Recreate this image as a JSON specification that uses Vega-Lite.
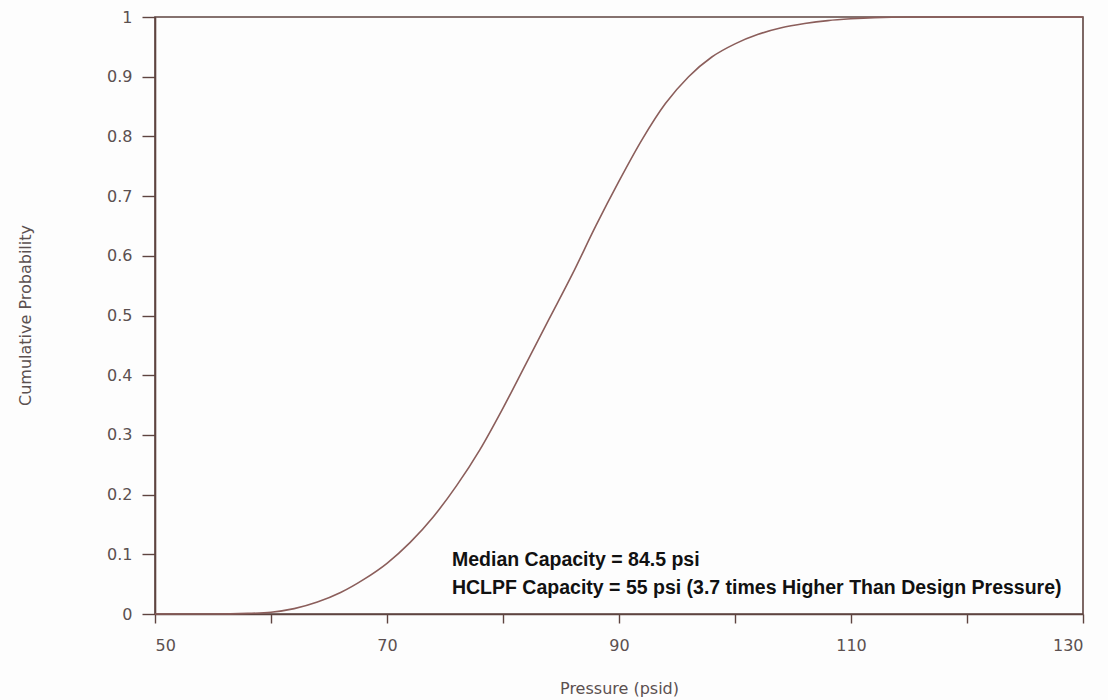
{
  "$schema": "https://vega.github.io/schema/vega-lite/v6.json",
  "autosize": "none",
  "width": 928,
  "height": 597,
  "padding": {"left": 155, "top": 17, "right": 25, "bottom": 86},
  "background": "#fdfdfd",
  "config": {
    "view": {"stroke": "#5e4440", "strokeWidth": 1.6},
    "axis": {
      "grid": false,
      "domainColor": "#5e4440",
      "domainWidth": 1.6,
      "tickColor": "#5e4440",
      "tickWidth": 1.4,
      "labelFont": "DejaVu Sans",
      "labelColor": "#5b5050",
      "labelFontSize": 16,
      "titleFont": "DejaVu Sans",
      "titleColor": "#5b5050",
      "titleFontSize": 16,
      "titleFontWeight": "normal"
    }
  },
  "datasets": {
    "curve": [
      {"pressure": 50, "prob": 0},
      {"pressure": 55, "prob": 0},
      {"pressure": 58, "prob": 0.001},
      {"pressure": 60, "prob": 0.003},
      {"pressure": 62, "prob": 0.009},
      {"pressure": 64, "prob": 0.02},
      {"pressure": 66, "prob": 0.036},
      {"pressure": 68, "prob": 0.058},
      {"pressure": 70, "prob": 0.085},
      {"pressure": 72, "prob": 0.12},
      {"pressure": 74, "prob": 0.163},
      {"pressure": 76, "prob": 0.215},
      {"pressure": 78, "prob": 0.275},
      {"pressure": 80, "prob": 0.345},
      {"pressure": 82, "prob": 0.42},
      {"pressure": 84, "prob": 0.495},
      {"pressure": 86, "prob": 0.57},
      {"pressure": 88, "prob": 0.65},
      {"pressure": 90, "prob": 0.725},
      {"pressure": 92, "prob": 0.795},
      {"pressure": 94, "prob": 0.855},
      {"pressure": 96, "prob": 0.9},
      {"pressure": 98, "prob": 0.933},
      {"pressure": 100, "prob": 0.955},
      {"pressure": 102, "prob": 0.971},
      {"pressure": 104, "prob": 0.982},
      {"pressure": 106, "prob": 0.989},
      {"pressure": 108, "prob": 0.994},
      {"pressure": 110, "prob": 0.997},
      {"pressure": 112, "prob": 0.999},
      {"pressure": 115, "prob": 1},
      {"pressure": 130, "prob": 1}
    ],
    "notes": [
      {"pressure": 75.6, "prob": 0.09, "text": "Median Capacity = 84.5 psi"},
      {"pressure": 75.6, "prob": 0.0436, "text": "HCLPF Capacity = 55 psi (3.7 times Higher Than Design Pressure)"}
    ]
  },
  "layer": [
    {
      "data": {"name": "curve"},
      "mark": {"type": "line", "color": "#8b5e5b", "strokeWidth": 1.6, "interpolate": "monotone"},
      "encoding": {
        "x": {
          "field": "pressure", "type": "quantitative",
          "scale": {"domain": [50, 130], "nice": false, "zero": false},
          "axis": {
            "title": "Pressure (psid)",
            "values": [50, 60, 70, 80, 90, 100, 110, 120, 130],
            "labelExpr": "datum.value % 20 == 10 ? datum.label : ''",
            "tickSize": 9,
            "labelPadding": 14,
            "titleY": 74,
            "titleBaseline": "middle"
          }
        },
        "y": {
          "field": "prob", "type": "quantitative",
          "scale": {"domain": [0, 1], "nice": false},
          "axis": {
            "title": "Cumulative Probability",
            "values": [0, 0.1, 0.2, 0.3, 0.4, 0.5, 0.6, 0.7, 0.8, 0.9, 1],
            "format": "~g",
            "tickSize": 13,
            "labelPadding": 10,
            "titleX": -130,
            "titleY": 298,
            "titleAngle": 270,
            "titleBaseline": "middle"
          }
        }
      }
    },
    {
      "data": {"name": "notes"},
      "mark": {"type": "text", "align": "left", "baseline": "middle", "font": "Liberation Sans Narrow, Liberation Sans", "fontWeight": "bold", "fontSize": 19.5, "color": "#111111"},
      "encoding": {
        "x": {"field": "pressure", "type": "quantitative"},
        "y": {"field": "prob", "type": "quantitative"},
        "text": {"field": "text"}
      }
    }
  ]
}
